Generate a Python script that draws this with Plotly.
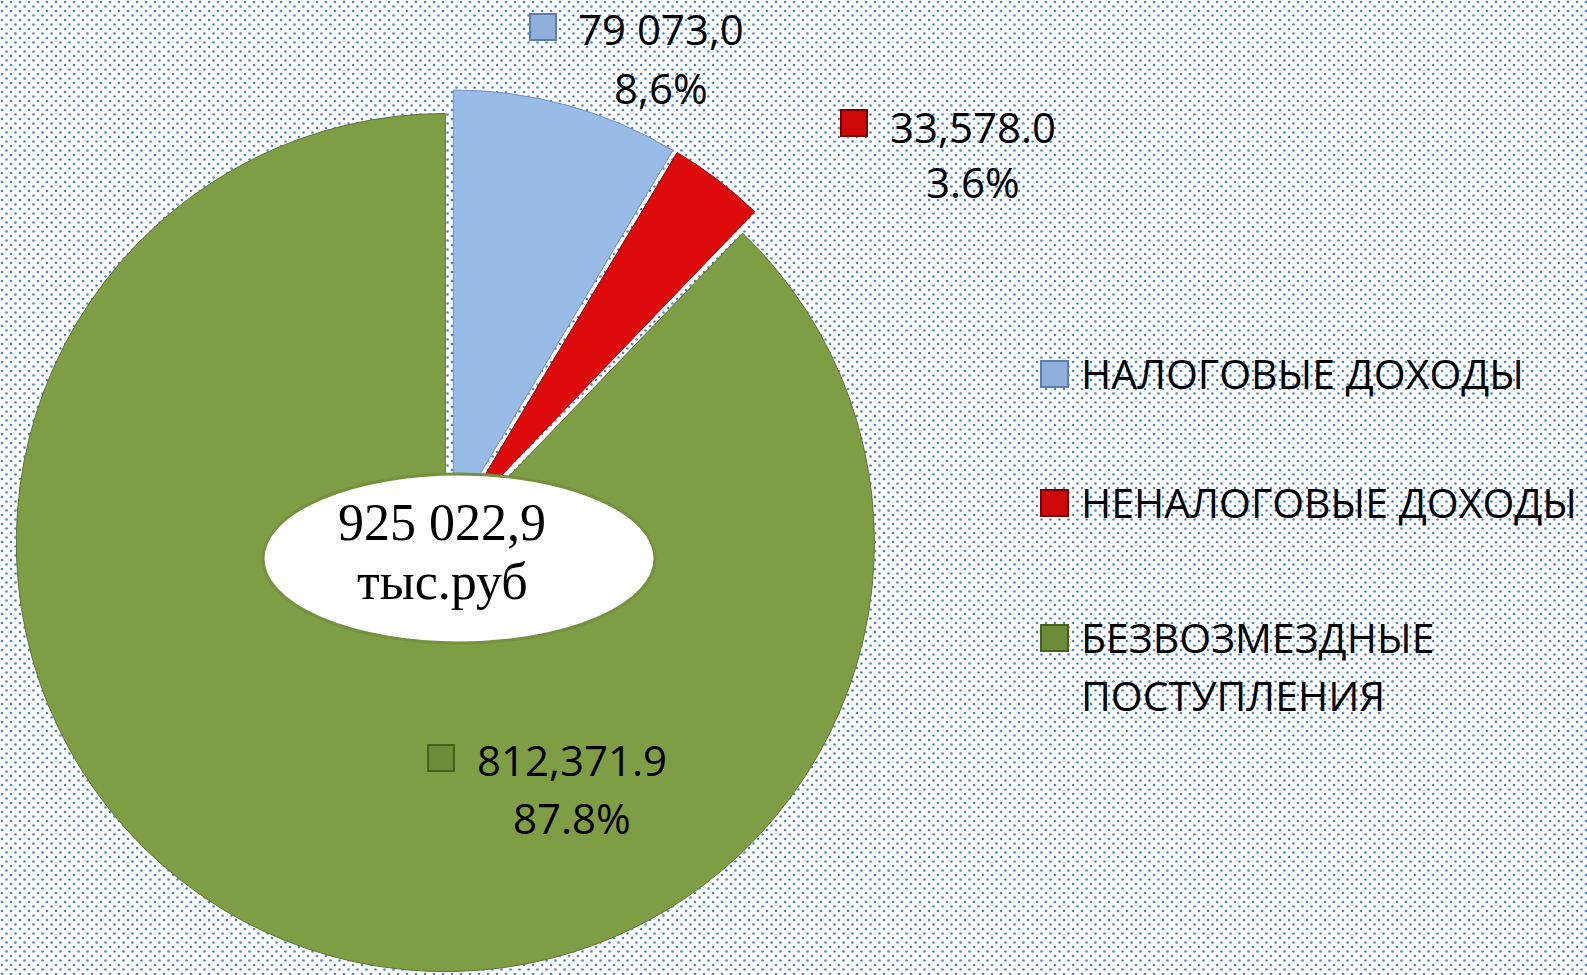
import base64
import plotly.graph_objects as go

# ---------------- data ----------------
categories = ["НАЛОГОВЫЕ ДОХОДЫ", "НЕНАЛОГОВЫЕ ДОХОДЫ", "БЕЗВОЗМЕЗДНЫЕ ПОСТУПЛЕНИЯ"]
legend_lines = [["НАЛОГОВЫЕ ДОХОДЫ"], ["НЕНАЛОГОВЫЕ ДОХОДЫ"], ["БЕЗВОЗМЕЗДНЫЕ", "ПОСТУПЛЕНИЯ"]]
values = [79073.0, 33578.0, 812371.9]
value_labels = ["79 073,0", "33,578.0", "812,371.9"]
percent_labels = ["8,6%", "3.6%", "87.8%"]
total_label = "925 022,9"
unit_label = "тыс.руб"

colors = ["#98bbe8", "#dc0a0a", "#7f9d45"]
edge_colors = ["#6f8fbf", "#9a0000", "#5c7530"]
key_colors = ["#8fb0dd", "#cc0808", "#6e8b39"]
key_edges = ["#5e7fae", "#7a0000", "#48601f"]

W, H = 1587, 975


def px(x):
    return x / W


def py(y):
    return 1 - y / H


# ---------------- background dotted pattern ----------------
svg = (
    f'<svg xmlns="http://www.w3.org/2000/svg" width="{W}" height="{H}">'
    '<defs><pattern id="p" width="9" height="9" patternUnits="userSpaceOnUse">'
    '<circle cx="2" cy="2" r="1.3" fill="#4f82c9"/>'
    '<circle cx="6.5" cy="6.5" r="1.3" fill="#4f82c9"/>'
    '</pattern></defs>'
    '<rect width="100%" height="100%" fill="#ffffff"/>'
    '<rect width="100%" height="100%" fill="url(#p)"/></svg>'
)
bg_src = "data:image/svg+xml;base64," + base64.b64encode(svg.encode()).decode()

# ---------------- pie ----------------
fig = go.Figure(
    go.Pie(
        labels=categories,
        values=values,
        sort=False,
        direction="clockwise",
        rotation=0,
        pull=0.029,
        textinfo="none",
        marker=dict(colors=colors, line=dict(color=edge_colors, width=1)),
        domain=dict(x=[px(8.5), px(891.5)], y=[py(972.5), py(89.5)]),
        showlegend=False,
        hovertemplate="%{label}<br>%{value}<extra></extra>",
    )
)

shapes = []
annotations = []

# central ellipse
shapes.append(dict(type="circle", xref="paper", yref="paper",
                   x0=px(263), x1=px(655), y0=py(643), y1=py(474),
                   fillcolor="white", line=dict(color="#74913d", width=3)))
annotations.append(dict(text=total_label, x=px(442), y=py(522), xref="paper", yref="paper",
                        showarrow=False, xanchor="center", yanchor="middle",
                        font=dict(family="Liberation Serif", size=52, color="black")))
annotations.append(dict(text=unit_label, x=px(442), y=py(581), xref="paper", yref="paper",
                        showarrow=False, xanchor="center", yanchor="middle",
                        font=dict(family="Liberation Serif", size=52, color="black")))

# data labels (value + percent) with key squares
label_centers = [(661, 30, 88), (973, 127, 183), (572, 760, 818)]
key_centers = [(543, 27), (854, 123), (441, 758)]
lab_font = dict(family="Open Sans", size=42, color="black")
leg_font = dict(family="Open Sans", size=41, color="black")
for i in range(len(categories)):
    cx, y1, y2 = label_centers[i]
    annotations.append(dict(text=value_labels[i], x=px(cx), y=py(y1 - 1), xref="paper", yref="paper",
                            showarrow=False, xanchor="center", yanchor="middle", font=lab_font))
    annotations.append(dict(text=percent_labels[i], x=px(cx), y=py(y2 - 1), xref="paper", yref="paper",
                            showarrow=False, xanchor="center", yanchor="middle", font=lab_font))
    kx, ky = key_centers[i]
    shapes.append(dict(type="rect", xref="paper", yref="paper",
                       x0=px(kx - 13), x1=px(kx + 13), y0=py(ky + 13), y1=py(ky - 13),
                       fillcolor=key_colors[i], line=dict(color=key_edges[i], width=2)))

# legend (right side)
legend_rows = [[374], [503], [638, 696]]
for i in range(len(categories)):
    for line, yy in zip(legend_lines[i], legend_rows[i]):
        annotations.append(dict(text=line, x=px(1079), y=py(yy - 1), xref="paper", yref="paper",
                                showarrow=False, xanchor="left", yanchor="middle", font=leg_font))
    ky = legend_rows[i][0]
    shapes.append(dict(type="rect", xref="paper", yref="paper",
                       x0=px(1041), x1=px(1068), y0=py(ky + 13), y1=py(ky - 13),
                       fillcolor=key_colors[i], line=dict(color=key_edges[i], width=2)))

fig.update_layout(
    width=W, height=H,
    margin=dict(l=0, r=0, t=0, b=0),
    paper_bgcolor="white",
    plot_bgcolor="white",
    images=[dict(source=bg_src, xref="paper", yref="paper", x=0, y=1, sizex=1, sizey=1,
                 xanchor="left", yanchor="top", sizing="stretch", layer="below")],
    shapes=shapes,
    annotations=annotations,
    showlegend=False,
)

fig.write_html("out.html", config={"displayModeBar": False},
               post_script="document.body.style.margin='0';document.body.style.overflow='hidden';")
